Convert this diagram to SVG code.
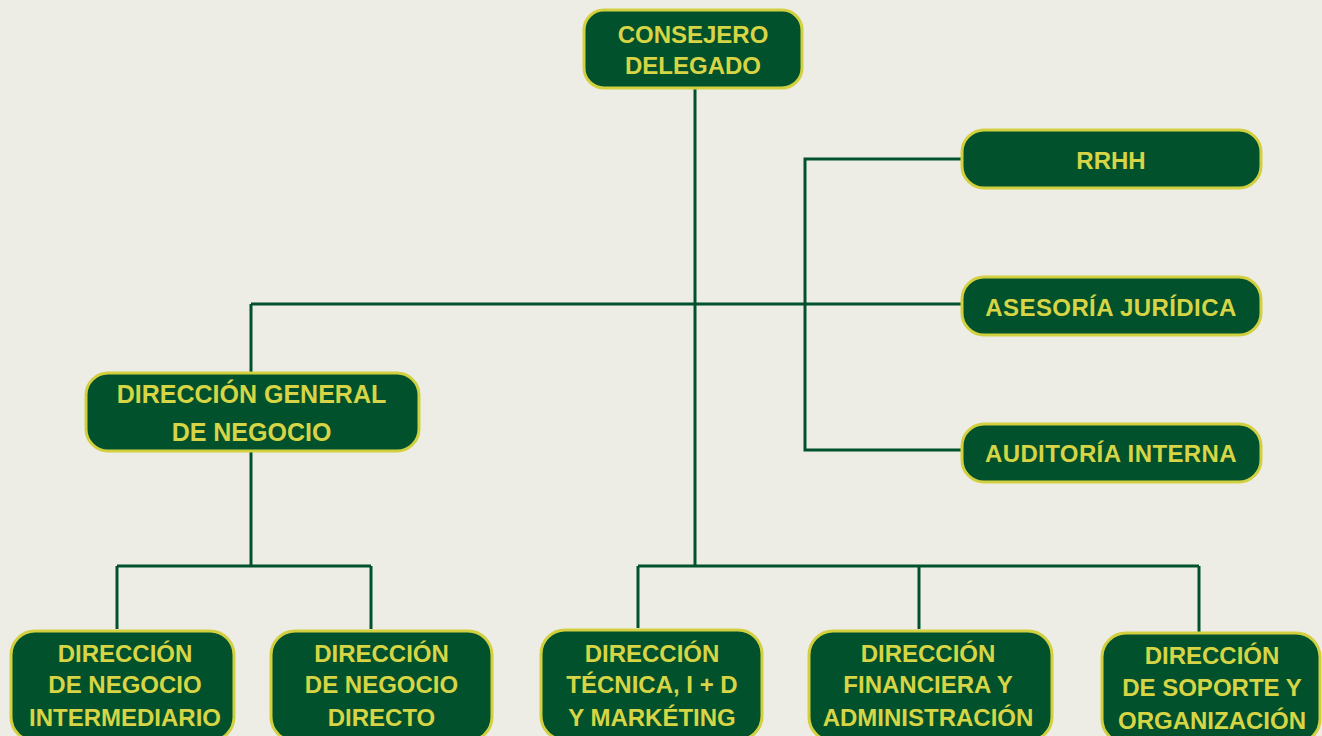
<svg xmlns="http://www.w3.org/2000/svg" width="1322" height="736" viewBox="0 0 1322 736">
<style>
.bg{fill:#EDECE5}
.box{fill:#01522C;stroke:#D3D040;stroke-width:3}
.t{fill:#D7D545;font-family:"Liberation Sans",Arial,sans-serif;font-weight:bold;font-size:24px;text-anchor:middle}
.t25{font-size:25px}
.c{fill:none;stroke:#01522C;stroke-width:3}
</style>
<rect class="bg" x="0" y="0" width="1322" height="736"/>
<g id="connectors">
<path class="c" d="M695 88 V566"/>
<path class="c" d="M251 304 H961"/>
<path class="c" d="M251 304 V373"/>
<path class="c" d="M251 452 V566"/>
<path class="c" d="M117 566 H371"/>
<path class="c" d="M117 566 V629"/>
<path class="c" d="M371 566 V629"/>
<path class="c" d="M638 566 H1199"/>
<path class="c" d="M638 566 V628"/>
<path class="c" d="M919 566 V629"/>
<path class="c" d="M1199 566 V632"/>
<path class="c" d="M961 159 H805 V450 H961"/>
</g>
<g id="consejero">
<rect class="box" x="584" y="10" width="218" height="78" rx="20"/>
<text class="t" x="693" y="42.5">CONSEJERO</text>
<text class="t" x="693" y="74">DELEGADO</text>
</g>
<g id="rrhh">
<rect class="box" x="962" y="130" width="299" height="58" rx="22"/>
<text class="t" x="1111" y="168.5">RRHH</text>
</g>
<g id="asesoria">
<rect class="box" x="962" y="277" width="299" height="58" rx="22"/>
<text class="t" x="1111" y="315.5" letter-spacing="0.4">ASESORÍA JURÍDICA</text>
</g>
<g id="auditoria">
<rect class="box" x="962" y="424" width="299" height="58" rx="22"/>
<text class="t" x="1111" y="462" letter-spacing="0.4">AUDITORÍA INTERNA</text>
</g>
<g id="dg-negocio">
<rect class="box" x="86" y="373" width="333" height="78" rx="22"/>
<text class="t t25" x="251.5" y="403">DIRECCIÓN GENERAL</text>
<text class="t t25" x="251.5" y="440.5">DE NEGOCIO</text>
</g>
<g id="d-intermediario">
<rect class="box" x="11" y="631" width="223" height="110" rx="24"/>
<text class="t" x="125" y="662">DIRECCIÓN</text>
<text class="t" x="125" y="693">DE NEGOCIO</text>
<text class="t" x="125" y="726">INTERMEDIARIO</text>
</g>
<g id="d-directo">
<rect class="box" x="271" y="631" width="221" height="110" rx="24"/>
<text class="t" x="381.5" y="662">DIRECCIÓN</text>
<text class="t" x="381.5" y="693">DE NEGOCIO</text>
<text class="t" x="381.5" y="726">DIRECTO</text>
</g>
<g id="d-tecnica">
<rect class="box" x="541" y="630" width="221" height="110" rx="24"/>
<text class="t" x="652" y="662">DIRECCIÓN</text>
<text class="t" x="652" y="693">TÉCNICA, I + D</text>
<text class="t" x="652" y="726">Y MARKÉTING</text>
</g>
<g id="d-financiera">
<rect class="box" x="809" y="631" width="243" height="110" rx="24"/>
<text class="t" x="928" y="662">DIRECCIÓN</text>
<text class="t" x="928" y="693">FINANCIERA Y</text>
<text class="t" x="928" y="726">ADMINISTRACIÓN</text>
</g>
<g id="d-soporte">
<rect class="box" x="1102" y="633" width="218" height="110" rx="24"/>
<text class="t" x="1212" y="664">DIRECCIÓN</text>
<text class="t" x="1212" y="696">DE SOPORTE Y</text>
<text class="t" x="1212" y="729">ORGANIZACIÓN</text>
</g>
</svg>
